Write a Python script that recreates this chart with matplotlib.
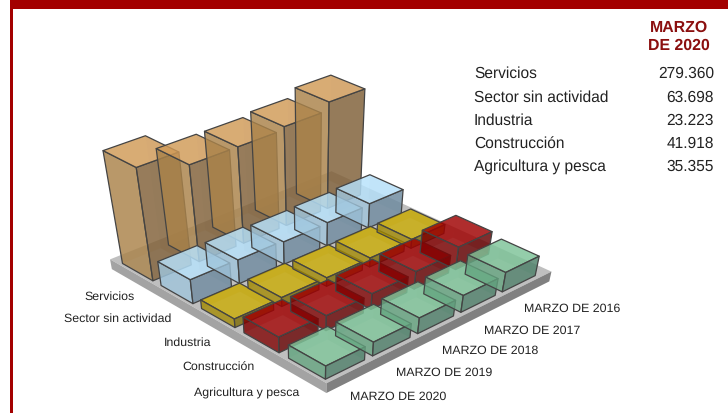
import matplotlib
matplotlib.use("Agg")
import matplotlib.pyplot as plt
from matplotlib.patches import Rectangle
from mpl_toolkits.mplot3d.art3d import Poly3DCollection

plt.rcParams['font.family'] = ['Liberation Sans', 'DejaVu Sans']
plt.rcParams['text.hinting'] = 'none'

W, H = 728, 414

sectores = ["Servicios", "Sector sin actividad", "Industria", "Construcción", "Agricultura y pesca"]
fechas = ["MARZO DE 2016", "MARZO DE 2017", "MARZO DE 2018", "MARZO DE 2019", "MARZO DE 2020"]
tabla = ["279.360", "63.698", "23.223", "41.918", "35.355"]

# miles de parados, 2016 -> 2020, 2020 from the table
servicios = [269, 250, 243, 243, 279.36]
sin_actividad = [65, 62, 60, 63, 63.698]
industria = [24, 24, 23, 24, 23.223]
construccion = [60, 47, 42, 40, 41.918]
agricultura = [52, 45, 42, 37, 35.355]
valores = [servicios, sin_actividad, industria, construccion, agricultura]

# top, left side, right side, drawn see-through
colores = [("#d39c58", "#aa834a", "#7f5f37"),
           ("#b8e4fe", "#9fc5dc", "#6d8a9f"),
           ("#cbac00", "#a38a00", "#7c6900"),
           ("#a20000", "#800000", "#670000"),
           ("#80c79b", "#64a580", "#4e8069")]
ALFA = 0.78


def px(x, y):
    return x / W, 1 - y / H


fig = plt.figure(figsize=(W / 100, H / 100), dpi=100)

# camera found by fitting corners of the picture, so the axes sit well below the figure
S = 968.0661
ax = fig.add_axes([(297.4587 - S / 2) / W, (H - 1285.153 - S / 2) / H, S / W, S / H], projection="3d")
ax.set_xlim(0, 5)
ax.set_ylim(0, 5)
ax.set_zlim(0, 300)
ax.set_proj_type("persp", focal_length=0.0762)
ax.view_init(elev=78.4311, azim=-132.73)
ax.set_box_aspect((1.1368, 1.1969, 0.1586), zoom=1.0)
ax.set_axis_off()
ax.computed_zorder = False

X0, Y0 = 12.0654, 12.0192
ANCHO, FONDO = 0.8259, 0.7913


def caras(x0, x1, y0, y1, z0, z1):
    return {
        "bottom": [(x0, y0, z0), (x1, y0, z0), (x1, y1, z0), (x0, y1, z0)],
        "top": [(x0, y0, z1), (x1, y0, z1), (x1, y1, z1), (x0, y1, z1)],
        "left": [(x0, y0, z0), (x0, y1, z0), (x0, y1, z1), (x0, y0, z1)],
        "right": [(x0, y0, z0), (x1, y0, z0), (x1, y0, z1), (x0, y0, z1)],
        "back_x": [(x1, y0, z0), (x1, y1, z0), (x1, y1, z1), (x1, y0, z1)],
        "back_y": [(x0, y1, z0), (x1, y1, z0), (x1, y1, z1), (x0, y1, z1)],
    }


def poner(polys, fc, ec, lw, z):
    col = Poly3DCollection(polys, facecolors=fc, edgecolors=ec, linewidths=lw, zorder=z)
    col.set_clip_on(False)
    ax.add_collection3d(col, autolim=False)


# base
base = caras(12.0, 17.2, 11.93, 17.06, -27, 0)
poner([base["top"]], "#bfbfbf", "none", 0, 1)
poner([base["left"]], "#a3a3a3", "none", 0, 1)
poner([base["right"]], "#808080", "none", 0, 1)

# painter's order, far bars first
orden = []
for s in range(5):
    for f in range(5):
        orden.append(((4 - f) + s, f, s))
orden.sort()

z = 2
for _, f, s in orden:
    x0 = X0 + (4 - f)
    y0 = Y0 + (4 - s)
    c = caras(x0, x0 + ANCHO, y0, y0 + FONDO, 0, valores[s][f])
    top, left, right = [matplotlib.colors.to_rgba(k, ALFA) for k in colores[s]]
    ghost_l = matplotlib.colors.to_rgba(colores[s][1], 0.2)
    ghost_r = matplotlib.colors.to_rgba(colores[s][2], 0.2)
    poner([c["back_x"], c["back_y"]], [ghost_r, ghost_l], "none", 0, z)
    poner([c["left"], c["right"], c["top"]], [left, right, top], "#444444", 0.9, z + 1)
    z += 2

# banner and left rule
fig.add_artist(Rectangle(px(10, 10), 718 / W, 10 / H, transform=fig.transFigure, fc="#a30000", ec="none"))
fig.add_artist(Rectangle(px(10.3, H), 2.6 / W, (H - 10) / H, transform=fig.transFigure, fc="#a30000", ec="none"))

# row labels on the chart
etq_sect = [(84, 297), (64, 319), (164, 343), (182, 367), (194, 393)]
for txt, (x, y) in zip(sectores, etq_sect):
    fig.text(*px(x, y), txt, fontsize=8.9, color="#222222", ha="left", va="center")
etq_fecha = [(524, 309), (484, 331), (442, 351), (396, 373), (350, 397)]
for txt, (x, y) in zip(fechas, etq_fecha):
    fig.text(*px(x, y), txt, fontsize=8.9, color="#222222", ha="left", va="center")

# table on the right
fig.text(*px(679, 28), "MARZO", fontsize=11.4, fontweight="bold", color="#8b0f0f", ha="center", va="center")
fig.text(*px(679, 46), "DE 2020", fontsize=11.4, fontweight="bold", color="#8b0f0f", ha="center", va="center")
filas_y = [74, 98, 121, 144, 167]
for nombre, val, y in zip(sectores, tabla, filas_y):
    fig.text(*px(474, y), nombre, fontsize=11.2, color="#222222", ha="left", va="center")
    fig.text(*px(714, y), val, fontsize=11.2, color="#222222", ha="right", va="center")

fig.savefig("out.png", dpi=100)
